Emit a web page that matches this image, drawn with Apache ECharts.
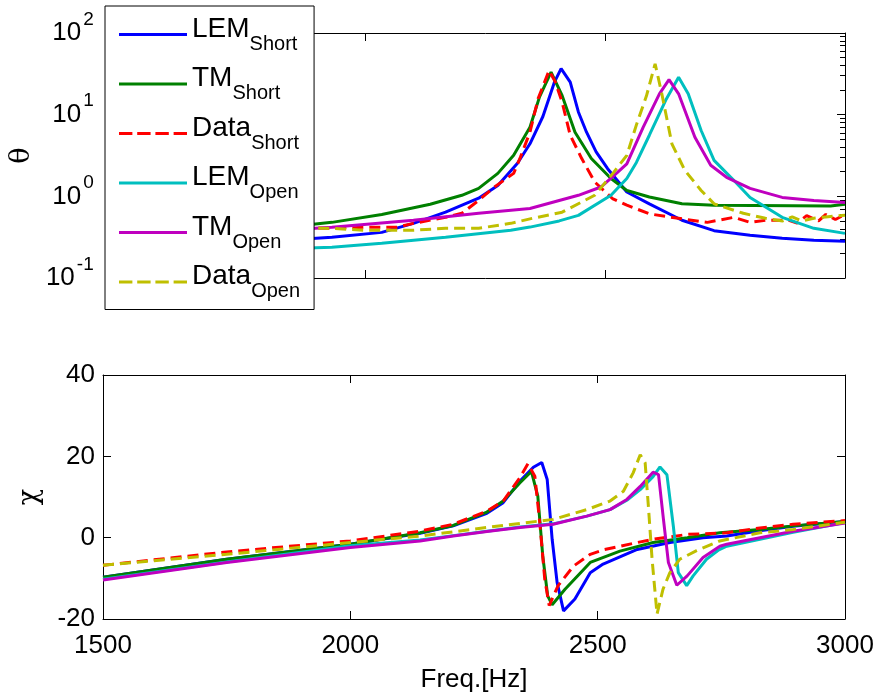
<!DOCTYPE html>
<html>
<head>
<meta charset="utf-8">
<script src="https://cdn.jsdelivr.net/npm/echarts@6/dist/echarts.min.js"></script>
<style>
html,body{margin:0;padding:0;background:#fff;}
#chart{width:882px;height:694px;}
</style>
</head>
<body>
<div id="chart"></div>
<script>
// ---------- data ----------
var seriesNames = ['LEM_Short','TM_Short','Data_Short','LEM_Open','TM_Open','Data_Open'];
var seriesColors = ['#0000FF','#008000','#FF0000','#00BFBF','#BF00BF','#BFBF00'];
var seriesDashed = [false,false,true,false,false,true];

var xTicks = [1500, 2000, 2500, 3000];
var thetaTicks = [0.1, 1, 10, 100];
var chiTicks = [-20, 0, 20, 40];

// theta (top, log) : [freq, value]
var thetaLemShort = [[1500,0.206],[1600,0.23],[1750,0.27],[1930,0.315],[2034,0.362],[2100,0.467],[2167,0.64],[2236,0.95],[2276,1.36],[2317,2.54],[2343,4.4],[2370,9.5],[2394,25],[2408,36.6],[2427,25],[2444,10.8],[2461,6.1],[2481,3.5],[2505,2.18],[2545,1.13],[2592,0.81],[2660,0.51],[2727,0.38],[2802,0.333],[2869,0.306],[2935,0.289],[3000,0.281]];
var thetaTmShort = [[1500,0.26],[1600,0.3],[1750,0.37],[1930,0.48],[2034,0.6],[2135,0.8],[2201,1.03],[2236,1.25],[2276,1.91],[2309,3.18],[2343,7.0],[2363,16.5],[2387,33.2],[2410,17.2],[2437,6.1],[2471,2.9],[2512,1.65],[2545,1.18],[2592,0.98],[2660,0.81],[2727,0.78],[2970,0.76],[3000,0.8]];
var thetaDataShort = [[1500,0.78],[1512,0.5],[1600,0.43],[1750,0.42],[1930,0.406],[2000,0.418],[2066,0.418],[2100,0.467],[2167,0.553],[2201,0.62],[2236,0.89],[2268,1.29],[2309,1.91],[2323,3.0],[2343,6.1],[2360,15.7],[2383,34.8],[2396,25],[2410,14.3],[2427,5.6],[2451,2.9],[2478,1.5],[2515,0.94],[2545,0.78],[2592,0.61],[2660,0.53],[2713,0.48],[2768,0.553],[2802,0.48],[2834,0.508],[2883,0.508],[2900,0.47],[2920,0.58],[2945,0.5],[2960,0.6],[2980,0.52],[3000,0.6]];
var thetaLemOpen = [[1500,0.19],[1600,0.2],[1750,0.22],[1930,0.238],[2034,0.266],[2167,0.315],[2303,0.384],[2343,0.42],[2404,0.5],[2444,0.585],[2512,1.03],[2545,1.65],[2565,2.6],[2592,5.6],[2626,15],[2653,28.8],[2673,18],[2700,6.4],[2727,2.76],[2768,1.57],[2802,0.97],[2869,0.553],[2935,0.406],[3000,0.352]];
var thetaTmOpen = [[1500,0.274],[1600,0.3],[1750,0.36],[1930,0.418],[2100,0.508],[2236,0.62],[2343,0.71],[2444,1.03],[2491,1.3],[2525,1.95],[2545,2.5],[2579,7.0],[2613,18],[2633,26.8],[2653,18],[2687,5.3],[2720,2.4],[2753,1.71],[2802,1.25],[2869,0.97],[2935,0.89],[3000,0.84]];
var thetaDataOpen = [[1500,0.78],[1512,0.5],[1600,0.42],[1750,0.41],[1930,0.406],[2000,0.384],[2100,0.384],[2167,0.406],[2236,0.406],[2303,0.467],[2343,0.53],[2410,0.64],[2478,1.03],[2518,1.98],[2545,3.18],[2565,7.5],[2586,17],[2604,42],[2618,18],[2639,4.4],[2666,2.08],[2700,1.18],[2727,0.81],[2788,0.62],[2834,0.538],[2870,0.5],[2890,0.56],[2910,0.5],[2935,0.54],[2960,0.56],[3000,0.585]];

// chi (bottom, linear) : [freq, value]
var chiLemShort = [[1500,-9.7],[1750,-5.3],[2000,-1.6],[2141,1.1],[2208,2.9],[2276,6.0],[2309,8.6],[2343,13.9],[2370,17.3],[2387,18.5],[2398,14.3],[2408,-0.4],[2418,-11],[2431,-18],[2454,-15.1],[2485,-8.6],[2511,-6.5],[2580,-2.9],[2646,-1.2],[2713,0],[2761,0.4],[2828,1.7],[2895,2.8],[3000,4.0]];
var chiTmShort = [[1500,-9.7],[1750,-5.3],[2000,-1.6],[2141,1.2],[2208,3.0],[2276,6.3],[2309,9.0],[2343,13.5],[2366,16.3],[2379,10.2],[2389,-4.5],[2399,-14.3],[2408,-16.5],[2434,-12.7],[2485,-6.1],[2545,-3.3],[2612,-1.2],[2681,0],[2747,1.2],[2828,2.0],[2895,2.9],[3000,4.0]];
var chiDataShort = [[1500,-6.8],[1750,-3.5],[2000,-0.8],[2141,1.6],[2208,3.3],[2276,6.5],[2309,9.0],[2343,14.8],[2359,18.2],[2373,15.1],[2383,3.7],[2393,-10.2],[2402,-16.7],[2420,-11.8],[2451,-7],[2485,-4.1],[2511,-3.0],[2580,-1.2],[2612,-0.4],[2681,0.8],[2761,1.2],[2828,2.4],[2895,3.3],[3000,4.2]];
var chiLemOpen = [[1500,-10.2],[1750,-6],[2000,-2.0],[2141,-0.6],[2208,0.5],[2276,1.6],[2343,2.6],[2410,3.4],[2478,5.3],[2525,6.9],[2559,9.2],[2586,11.8],[2612,15],[2626,17.4],[2640,15.5],[2653,2.8],[2663,-8.6],[2680,-11.8],[2693,-9.4],[2720,-5.3],[2745,-3.0],[2761,-2.1],[2828,-0.4],[2895,1.3],[3000,3.7]];
var chiTmOpen = [[1500,-10.4],[1750,-6.1],[2000,-2.4],[2141,-0.8],[2208,0.4],[2276,1.5],[2343,2.5],[2410,3.3],[2478,5.3],[2525,6.9],[2559,9.4],[2586,12.6],[2612,16.1],[2623,15.5],[2633,4.5],[2643,-6.1],[2660,-11.7],[2681,-9.4],[2713,-4.9],[2747,-2.1],[2761,-1.6],[2828,0],[2895,1.6],[3000,3.6]];
var chiDataOpen = [[1500,-6.8],[1750,-4.1],[2000,-1.2],[2141,0.4],[2276,2.5],[2410,4.5],[2478,6.9],[2525,9.0],[2552,11.4],[2572,16.0],[2586,20.4],[2596,18.4],[2603,6.9],[2610,-5.3],[2620,-18.8],[2632,-12.7],[2646,-8.6],[2666,-5.3],[2700,-3.2],[2747,-0.8],[2828,1.2],[2895,2.0],[3000,3.8]];

var thetaData = [thetaLemShort, thetaTmShort, thetaDataShort, thetaLemOpen, thetaTmOpen, thetaDataOpen];
var chiData = [chiLemShort, chiTmShort, chiDataShort, chiLemOpen, chiTmOpen, chiDataOpen];

var minorLog = [];
[0.1, 1, 10].forEach(function(d){ for (var k = 2; k <= 9; k++) minorLog.push(+(d*k).toPrecision(3)); });

// ---------- chart ----------
var FONT = 'Liberation Sans, Arial, sans-serif';
var chart = echarts.init(document.getElementById('chart'), null, {renderer: 'canvas'});

var GL = 103, GW = 742;
var grids = [
  {left: GL, top: 33, width: GW, height: 245},
  {left: GL, top: 375, width: GW, height: 245}
];

function xAx(gi, pos, showLabel, name) {
  return {
    type: 'value', gridIndex: gi, position: pos, min: xTicks[0], max: xTicks[xTicks.length-1], interval: 500,
    axisLine: {show: true, onZero: false, lineStyle: {color: '#000', width: 1}},
    axisTick: {show: true, inside: true, length: 8, lineStyle: {color: '#000'}},
    axisLabel: {show: showLabel, color: '#000', fontSize: 26, fontFamily: FONT, margin: 14,
      formatter: function(v){ return String(v); }},
    splitLine: {show: false},
    name: name || '', nameLocation: 'middle', nameGap: 48,
    nameTextStyle: {color: '#000', fontSize: 26, fontFamily: FONT}
  };
}

var supRich = {
  b: {fontSize: 26, fontFamily: FONT, color: '#000'},
  sup: {fontSize: 19, fontFamily: FONT, color: '#000', padding: [0, 0, 27, 2]}
};

var yAxes = [
  { // 0 top-left log major
    type: 'log', gridIndex: 0, position: 'left', min: thetaTicks[0], max: thetaTicks[3], logBase: 10,
    axisLine: {show: true, onZero: false, lineStyle: {color: '#000', width: 1}},
    axisTick: {show: true, inside: true, length: 8, lineStyle: {color: '#000'}},
    axisLabel: {show: true, margin: 32, formatter: function(v){
      var e = Math.round(Math.log(v)/Math.LN10);
      return '{b|10}{sup|' + e + '}';
    }, rich: supRich},
    splitLine: {show: false},
    name: 'θ', nameLocation: 'middle', nameGap: 82, nameRotate: 90,
    nameTextStyle: {color: '#000', fontSize: 27, fontFamily: 'DejaVu Serif, serif'}
  },
  { // 1 top-right log
    type: 'log', gridIndex: 0, position: 'right', min: thetaTicks[0], max: thetaTicks[3], logBase: 10,
    axisLine: {show: true, onZero: false, lineStyle: {color: '#000', width: 1}},
    axisTick: {show: true, inside: true, length: 8, lineStyle: {color: '#000'}},
    axisLabel: {show: false}, splitLine: {show: false}
  },
  { // 2 top-left minor
    type: 'log', gridIndex: 0, position: 'left', min: thetaTicks[0], max: thetaTicks[3], logBase: 10,
    axisLine: {show: false},
    axisTick: {show: true, inside: true, length: 5, customValues: minorLog, lineStyle: {color: '#000'}},
    axisLabel: {show: false}, splitLine: {show: false}
  },
  { // 3 top-right minor
    type: 'log', gridIndex: 0, position: 'right', min: thetaTicks[0], max: thetaTicks[3], logBase: 10,
    axisLine: {show: false},
    axisTick: {show: true, inside: true, length: 5, customValues: minorLog, lineStyle: {color: '#000'}},
    axisLabel: {show: false}, splitLine: {show: false}
  },
  { // 4 bottom-left
    type: 'value', gridIndex: 1, position: 'left', min: chiTicks[0], max: chiTicks[3], interval: 20,
    axisLine: {show: true, onZero: false, lineStyle: {color: '#000', width: 1}},
    axisTick: {show: true, inside: true, length: 8, lineStyle: {color: '#000'}},
    axisLabel: {show: true, color: '#000', fontSize: 26, fontFamily: FONT, margin: 8},
    splitLine: {show: false},
    name: 'χ', nameLocation: 'middle', nameGap: 60, nameRotate: 90,
    nameTextStyle: {color: '#000', fontSize: 27, fontFamily: 'DejaVu Serif, serif'}
  },
  { // 5 bottom-right
    type: 'value', gridIndex: 1, position: 'right', min: chiTicks[0], max: chiTicks[3], interval: 20,
    axisLine: {show: true, onZero: false, lineStyle: {color: '#000', width: 1}},
    axisTick: {show: true, inside: true, length: 8, lineStyle: {color: '#000'}},
    axisLabel: {show: false}, splitLine: {show: false}
  }
];

var series = [];
seriesNames.forEach(function(nm, i){
  var ls = {color: seriesColors[i], width: 3, type: seriesDashed[i] ? [11, 6] : 'solid'};
  series.push({name: nm, type: 'line', xAxisIndex: 0, yAxisIndex: 0, data: thetaData[i],
    showSymbol: false, symbol: 'none', lineStyle: ls, itemStyle: {color: seriesColors[i]}, z: 2 + i, animation: false});
  series.push({name: nm, type: 'line', xAxisIndex: 2, yAxisIndex: 4, data: chiData[i],
    showSymbol: false, symbol: 'none', lineStyle: ls, itemStyle: {color: seriesColors[i]}, z: 2 + i, animation: false});
});

var DASH_ICON = 'path://M0,0h12.5v3h-12.5zM17,0h12.5v3h-12.5zM34,0h12.5v3h-12.5zM51,0h12.5v3h-12.5z';
var legendData = seriesNames.map(function(nm, i){
  return {name: nm, icon: seriesDashed[i] ? DASH_ICON : 'rect'};
});

chart.setOption({
  backgroundColor: '#fff',
  animation: false,
  grid: grids,
  xAxis: [xAx(0, 'bottom', false), xAx(0, 'top', false), xAx(1, 'bottom', true, 'Freq.[Hz]'), xAx(1, 'top', false)],
  yAxis: yAxes,
  legend: {
    data: legendData, orient: 'vertical', left: 105, top: 6,
    backgroundColor: '#fff', borderColor: '#000', borderWidth: 1, borderRadius: 0,
    padding: [9, 14, 8, 14], itemGap: 10.5, itemWidth: 68, itemHeight: 3,
    symbolKeepAspect: false, selectedMode: false,
    formatter: function(n){ var p = n.split('_'); return '{m|' + p[0] + '}{s|' + p[1] + '}'; },
    textStyle: {color: '#000', fontFamily: FONT, rich: {
      m: {fontSize: 28, fontFamily: FONT, color: '#000', lineHeight: 28, padding: [0, 0, 11, 0]},
      s: {fontSize: 20, fontFamily: FONT, color: '#000', lineHeight: 20, padding: [19, 0, 0, 0]}
    }},
    z: 20
  },
  series: series
});
</script>
</body>
</html>
